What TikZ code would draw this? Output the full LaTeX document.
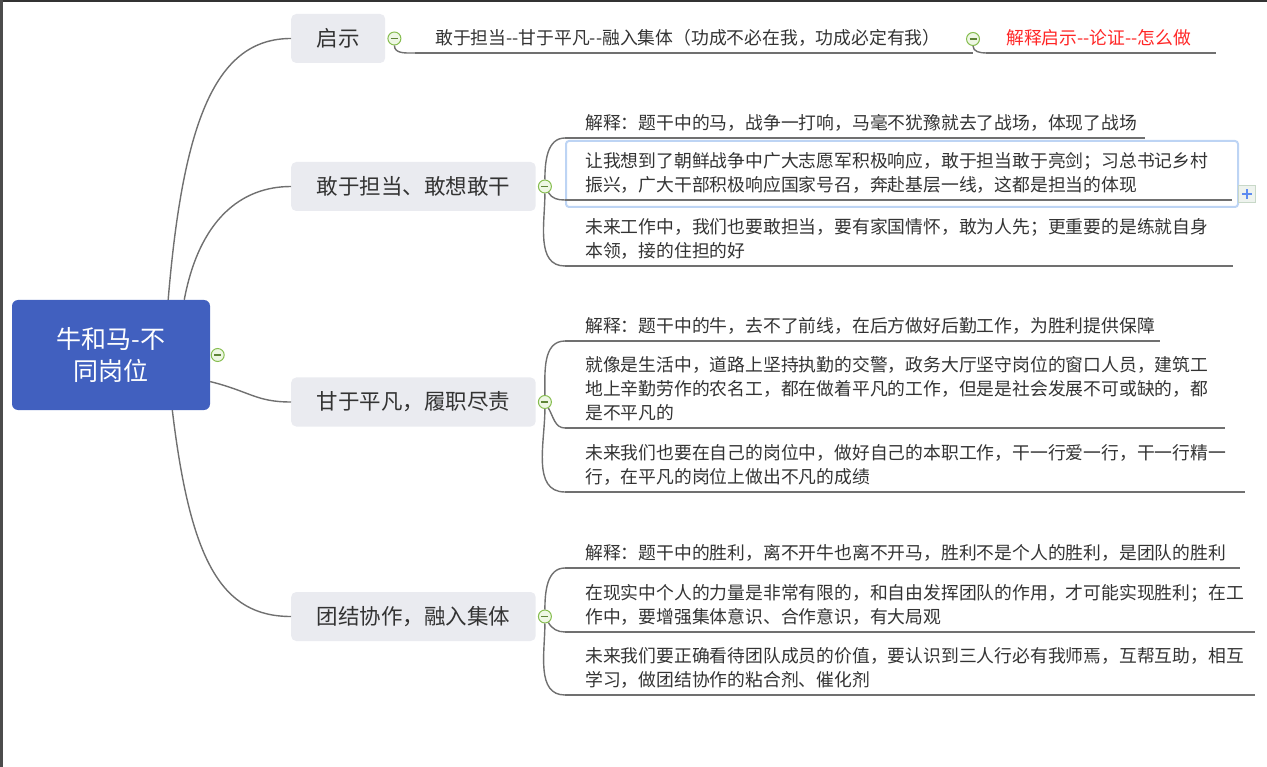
\documentclass[tikz,border=0pt]{standalone}
\usepackage{fontspec}
\setmainfont{Noto Sans CJK SC}
\usetikzlibrary{positioning}
\definecolor{rootblue}{HTML}{4160BF}
\definecolor{topicgray}{HTML}{EAEBF0}
\definecolor{txtgray}{HTML}{333333}
\definecolor{linegray}{HTML}{707070}
\definecolor{foldgreen}{HTML}{86BD4F}
\definecolor{foldfill}{HTML}{EEF7E4}
\definecolor{selblue}{HTML}{BDD4F4}
\definecolor{addline}{HTML}{C8D8C8}
\definecolor{addfill}{HTML}{EEF3EE}
\definecolor{addblue}{HTML}{5E8CF0}
\definecolor{hintred}{HTML}{FF2626}
\newcommand{\leaffont}{\fontsize{17.8}{24}\selectfont}
\begin{document}
\begin{tikzpicture}[x=1pt,y=-1pt,
  root/.style={fill=rootblue,rounded corners=6pt,minimum width=198pt,minimum height=110pt,align=center,text=white,font=\fontsize{25}{32}\selectfont},
  topic/.style={anchor=west,fill=topicgray,rounded corners=5pt,minimum height=49pt,inner xsep=25.5pt,text=txtgray,font=\fontsize{21.5}{26}\selectfont},
  leaf/.style={anchor=south west,align=left,inner xsep=20pt,inner ysep=0.8pt,text=txtgray,font=\leaffont,execute at end node=\strut},
  fold/.style={circle,draw=foldgreen,fill=foldfill,line width=1pt,minimum size=13pt,inner sep=0pt,
    path picture={\draw[foldgreen!70!black,line width=1.2pt] ([xshift=-3.5pt]path picture bounding box.center) -- ([xshift=3.5pt]path picture bounding box.center);}},
  conn/.style={draw=linegray,line width=1.4pt},
  uline/.style={draw=linegray,line width=1.4pt}]
 \useasboundingbox (0,0) rectangle (1267,767);
 \fill[black!80] (0,0) rectangle (1267,2);
 \fill[black!70] (0,0) rectangle (2.5,767);
 \node[root] (root) at (111,355) {牛和马-不\\同岗位};
 \node[fold,right=0.5pt of root] (f0) {};
 \node[topic] (sA) at (291,38.5) {启示};
 \node[topic] (sB) at (291,186.5) {敢于担当、敢想敢干};
 \node[topic] (sC) at (291,402) {甘于平凡，履职尽责};
 \node[topic] (sD) at (291,616.5) {团结协作，融入集体};
 \node[fold,right=2pt of sA] (fA) {};
 \node[fold,right=2pt of sB] (fB) {};
 \node[fold,right=2pt of sC] (fC) {};
 \node[fold,right=2pt of sD] (fD) {};
 \draw[conn] (root.44) .. controls +(15,-180) and +(-75,0) .. (sA.west);
 \draw[conn] (root.37) .. controls +(15,-80) and +(-50,0) .. (sB.west);
 \draw[conn] (root.-15) .. controls +(40,10) and +(-35,0) .. (sC.west);
 \draw[conn] (root.-42) .. controls +(18,150) and +(-70,0) .. (sD.west);
 \node[leaf,text width=518pt] (qA) at (415,53) {敢于担当-{}-甘于平凡-{}-融入集体（功成不必在我，功成必定有我）};
 \node[fold] (fA2) at (973,39) {};
 \node[leaf,text width=190pt,text=hintred] (qB) at (986,53) {解释启示-{}-论证-{}-怎么做};
 \draw[selblue,line width=2pt,rounded corners=3pt] (566,141) rectangle (1238,207);
 \node[leaf,text width=540pt] (b1) at (565,138) {解释：题干中的马，战争一打响，马毫不犹豫就去了战场，体现了战场};
 \node[leaf,text width=627pt] (b2) at (565,200) {让我想到了朝鲜战争中广大志愿军积极响应，敢于担当敢于亮剑；习总书记乡村\\振兴，广大干部积极响应国家号召，奔赴基层一线，这都是担当的体现};
 \node[leaf,text width=628pt] (b3) at (565,266) {未来工作中，我们也要敢担当，要有家国情怀，敢为人先；更重要的是练就自身\\本领，接的住担的好};
 \node[draw=addline,fill=addfill,minimum size=17pt,inner sep=0pt,
   path picture={\draw[addblue,line width=2pt] ([xshift=-5pt]path picture bounding box.center) -- ([xshift=5pt]path picture bounding box.center) ([yshift=-5pt]path picture bounding box.center) -- ([yshift=5pt]path picture bounding box.center);}] (addbtn) at (1247,194) {};
 \node[leaf,text width=555pt] (c1) at (565,341) {解释：题干中的牛，去不了前线，在后方做好后勤工作，为胜利提供保障};
 \node[leaf,text width=620pt] (c2) at (565,428) {就像是生活中，道路上坚持执勤的交警，政务大厅坚守岗位的窗口人员，建筑工\\地上辛勤劳作的农名工，都在做着平凡的工作，但是是社会发展不可或缺的，都\\是不平凡的};
 \node[leaf,text width=640pt] (c3) at (565,492) {未来我们也要在自己的岗位中，做好自己的本职工作，干一行爱一行，干一行精一\\行，在平凡的岗位上做出不凡的成绩};
 \node[leaf,text width=635pt] (d1) at (565,568) {解释：题干中的胜利，离不开牛也离不开马，胜利不是个人的胜利，是团队的胜利};
 \node[leaf,text width=650pt] (d2) at (565,632) {在现实中个人的力量是非常有限的，和自由发挥团队的作用，才可能实现胜利；在工\\作中，要增强集体意识、合作意识，有大局观};
 \node[leaf,text width=650pt] (d3) at (565,695) {未来我们要正确看待团队成员的价值，要认识到三人行必有我师焉，互帮互助，相互\\学习，做团结协作的粘合剂、催化剂};
 \draw[uline] (qA.south west) -- (qA.south east);
 \draw[uline] (qB.south west) -- (qB.south east);
 \draw[uline] (b1.south west) -- (b1.south east);
 \draw[uline] (b2.south west) -- (b2.south east);
 \draw[uline] (b3.south west) -- (b3.south east);
 \draw[uline] (c1.south west) -- (c1.south east);
 \draw[uline] (c2.south west) -- (c2.south east);
 \draw[uline] (c3.south west) -- (c3.south east);
 \draw[uline] (d1.south west) -- (d1.south east);
 \draw[uline] (d2.south west) -- (d2.south east);
 \draw[uline] (d3.south west) -- (d3.south east);
 \draw[conn] (fA) to[out=-90,in=180] (qA.south west);
 \draw[conn] (fA2) to[out=-90,in=180] (qB.south west);
 \draw[conn] (fB) to[out=90,in=180] (b1.south west);
 \draw[conn] (fB) to[out=-60,in=180] (b2.south west);
 \draw[conn] (fB) to[out=-90,in=180] (b3.south west);
 \draw[conn] (fC) to[out=90,in=180] (c1.south west);
 \draw[conn] (fC) to[out=-60,in=180] (c2.south west);
 \draw[conn] (fC) to[out=-90,in=180] (c3.south west);
 \draw[conn] (fD) to[out=90,in=180] (d1.south west);
 \draw[conn] (fD) to[out=-60,in=180] (d2.south west);
 \draw[conn] (fD) to[out=-90,in=180] (d3.south west);
\end{tikzpicture}
\end{document}
